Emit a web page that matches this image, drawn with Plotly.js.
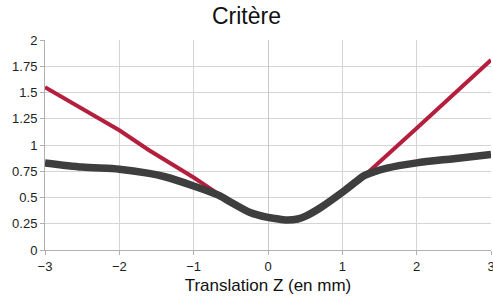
<!DOCTYPE html>
<html><head><meta charset="utf-8">
<script src="https://cdn.plot.ly/plotly-3.0.1.min.js"></script>
<style>html,body{margin:0;padding:0;background:#fff;overflow:hidden}#c{width:493px;height:305px}</style>
</head><body><div id="c"></div>
<script>
const blackX = [-3, -2.5, -2, -1.6, -1.4, -1, -0.66, -0.5, -0.25, 0, 0.1, 0.25, 0.4, 0.5, 0.7, 1, 1.2, 1.3, 1.6, 2, 2.5, 3];
const blackY = [0.83, 0.79, 0.77, 0.73, 0.70, 0.61, 0.52, 0.455, 0.36, 0.31, 0.30, 0.285, 0.295, 0.32, 0.40, 0.55, 0.66, 0.71, 0.78, 0.83, 0.87, 0.91];
const redX = [-3, -2.5, -2, -1.6, -1, -0.66, -0.5, -0.25, 0, 0.1, 0.25, 0.4, 0.5, 0.7, 1, 1.2, 1.3, 2, 2.5, 3];
const redY = [1.55, 1.34, 1.14, 0.95, 0.69, 0.53, 0.455, 0.36, 0.31, 0.30, 0.285, 0.295, 0.32, 0.40, 0.55, 0.66, 0.71, 1.16, 1.49, 1.81];
const xTicks = [-3, -2, -1, 0, 1, 2, 3];
const yTicks = [0, 0.25, 0.5, 0.75, 1, 1.25, 1.5, 1.75, 2];

const traces = [
  {x: redX, y: redY, mode: 'lines', line: {color: '#b41f3e', width: 4}, hoverinfo: 'skip'},
  {x: blackX, y: blackY, mode: 'lines', line: {color: '#3e3e3e', width: 7.5, shape: 'spline', smoothing: 0.8}, hoverinfo: 'skip'}
];
const layout = {
  width: 493, height: 305,
  margin: {l: 45, r: 2, t: 40, b: 55},
  paper_bgcolor: '#fff', plot_bgcolor: '#fff',
  showlegend: false,
  font: {family: 'Liberation Sans, Arial, sans-serif', color: '#222', size: 13},
  title: {text: 'Critère', x: 0.5, xanchor: 'center', y: 0.948, yanchor: 'middle', font: {size: 23, color: '#111'}},
  xaxis: {
    range: [-3, 3], tickvals: xTicks, showgrid: true, gridcolor: '#d4d4d4', gridwidth: 1,
    zeroline: true, zerolinecolor: '#c8c8c8', zerolinewidth: 1,
    showline: true, linecolor: '#b0b0b0', linewidth: 1,
    ticks: 'outside', ticklen: 4, tickcolor: '#b0b0b0',
    ticklabeloverflow: 'allow',
    tickfont: {size: 13, color: '#222'},
    title: {text: 'Translation Z (en mm)', font: {size: 17, color: '#111'}, standoff: 6}
  },
  yaxis: {
    range: [0, 2], tickvals: yTicks, showgrid: true, gridcolor: '#d4d4d4', gridwidth: 1,
    zeroline: false, showline: true, linecolor: '#b0b0b0', linewidth: 1,
    ticks: 'outside', ticklen: 4, tickcolor: '#b0b0b0',
    tickfont: {size: 13, color: '#222'}
  }
};
Plotly.newPlot('c', traces, layout, {displayModeBar: false, staticPlot: true});
</script></body></html>
